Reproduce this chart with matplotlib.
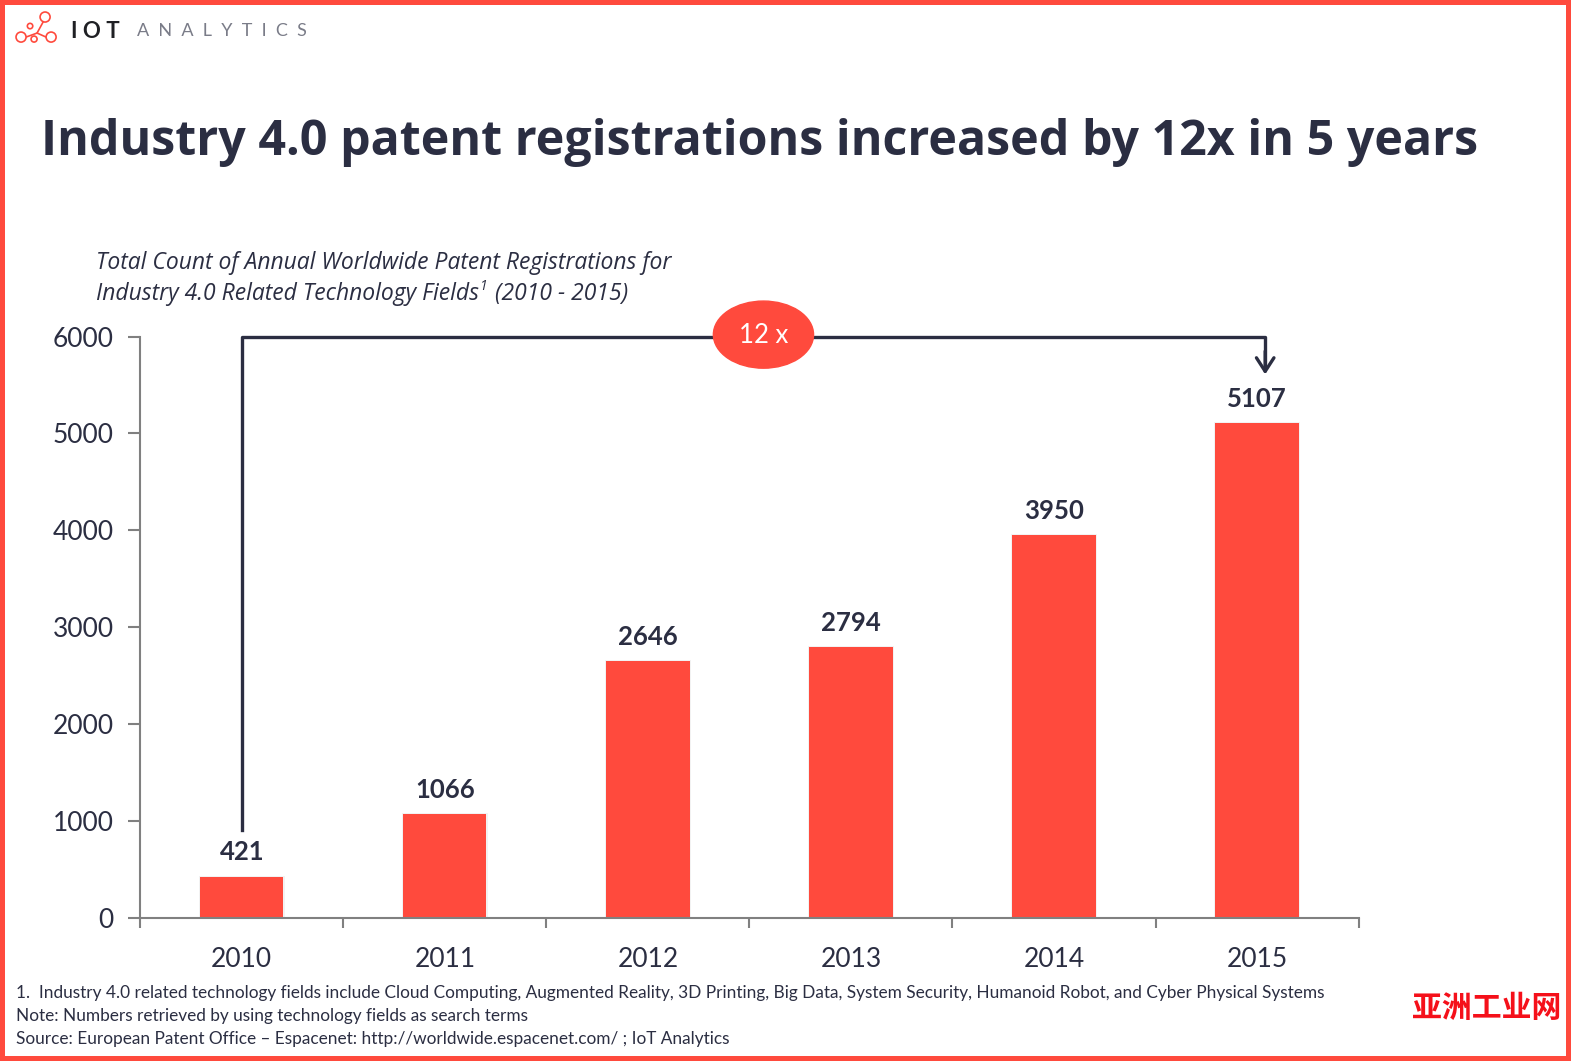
import matplotlib
matplotlib.use('Agg')
import matplotlib.pyplot as plt
from matplotlib.patches import Ellipse, Circle, Rectangle

years = ['2010', '2011', '2012', '2013', '2014', '2015']
patents = [421, 1066, 2646, 2794, 3950, 5107]
y_ticks = [0, 1000, 2000, 3000, 4000, 5000, 6000]
footnotes = [
    '1.  Industry 4.0 related technology fields include Cloud Computing, Augmented Reality, 3D Printing, Big Data, System Security, Humanoid Robot, and Cyber Physical Systems',
    'Note: Numbers retrieved by using technology fields as search terms',
    'Source: European Patent Office \u2013 Espacenet: http://worldwide.espacenet.com/ ; IoT Analytics',
]

W, H = 1568, 1059  # layout units, the saved file is 1571x1061
RED = '#ff4a3d'
DARK = '#2b2e42'
GREY = '#808080'

fig = plt.figure(figsize=(15.71, 10.61), dpi=100, facecolor='white')

# overlay in layout units for the frame, logo and texts
bg = fig.add_axes([0, 0, 1, 1], zorder=3)
bg.set_xlim(0, W)
bg.set_ylim(H, 0)
bg.axis('off')
bg.patch.set_alpha(0)

# chart axes
ax = fig.add_axes([140 / W, 1 - 916 / H, (1356 - 140) / W, (916 - 336) / H], zorder=2)
ax.patch.set_alpha(0)
x = list(range(len(years)))

# soft shadow then the bars
ax.bar(x, [v + 12 for v in patents], width=0.425, color='#000000', alpha=0.05)
ax.bar(x, patents, width=0.41, color=RED)

for i, v in zip(x, patents):
    ax.text(i, v + 130, str(v), ha='center', va='bottom', fontsize=18.5,
            fontweight='bold', family='Lato', color=DARK)

ax.set_xlim(-0.5, 5.5)
ax.set_ylim(0, 6000)
ax.set_yticks(y_ticks)
ax.set_xticks(x)
ax.set_xticklabels(years)
ax.set_xticks([i - 0.5 for i in range(len(years) + 1)], minor=True)
ax.tick_params(axis='x', which='major', length=0, pad=21, labelsize=19, labelcolor=DARK)
ax.tick_params(axis='x', which='minor', length=7, width=1.5, color=GREY)
ax.tick_params(axis='y', length=9, width=1.5, color=GREY, pad=10, labelsize=19, labelcolor=DARK)
for lab in ax.get_xticklabels() + ax.get_yticklabels():
    lab.set_family('Lato')
for s in ['top', 'right']:
    ax.spines[s].set_visible(False)
for s in ['left', 'bottom']:
    ax.spines[s].set_color(GREY)
    ax.spines[s].set_linewidth(1.5)

# 12x bracket from first to last bar, the drop sits a little right of the bar centre
drop_x = x[-1] + 0.04
ax.plot([x[0], x[0], drop_x, drop_x], [910, y_ticks[-1], y_ticks[-1], 5700],
        color=DARK, lw=2.4, clip_on=False, solid_joinstyle='round', zorder=5)
ax.annotate('', xy=(drop_x, 5610), xytext=(drop_x, 5850), annotation_clip=False, zorder=5,
            arrowprops=dict(arrowstyle='->,head_length=0.65,head_width=0.42', color=DARK, lw=2.4,
                            shrinkA=0, shrinkB=0, mutation_scale=15))

bg.add_patch(Ellipse((762, 334), 100, 67, color=RED, zorder=6))
bg.text(762, 335, '12 x', color='white', fontsize=18.5, family='Lato', ha='center', va='center', zorder=7)

# frame
bg.add_patch(Rectangle((2.4, 2.4), W - 5, H - 5, fill=False, ec=RED, lw=3.6))

# logo
LOGO_LW = 1.2
for cx, cy, r in [(45, 17, 5), (30, 26, 2.7), (21, 37, 5), (34, 39, 3), (51, 37, 5)]:
    bg.add_patch(Circle((cx, cy), r, fc='white', ec=RED, lw=LOGO_LW, zorder=3))
bg.plot([26, 37, 46], [37, 33, 37], color=RED, lw=LOGO_LW, zorder=2)
bg.plot([37, 43], [33, 22], color=RED, lw=LOGO_LW, zorder=2)
bg.text(71, 31, 'I O T', fontsize=16, fontweight='bold', family='Lato', color='#1f2024', va='center')
bg.text(137, 31, 'A  N  A  L  Y  T  I  C  S', fontsize=13, family='Lato',
        color='#7a7c88', va='center')

# title
bg.text(41, 155, 'Industry 4.0 patent registrations increased by 12x in 5 years',
        fontsize=34.8, fontweight='bold', family='Open Sans', color=DARK, va='baseline')

# subtitle
SUB = dict(fontsize=16.5, style='italic', family='Open Sans', color=DARK, va='center')
bg.text(96, 263, 'Total Count of Annual Worldwide Patent Registrations for', **SUB)
bg.text(96, 293, 'Industry 4.0 Related Technology Fields', **SUB)
bg.text(479, 286, '1', fontsize=10, style='italic', family='Open Sans', color=DARK, va='center')
bg.text(494, 293, '(2010 - 2015)', **SUB)

# footnotes
for y_px, line in zip([991.5, 1014.5, 1037.5], footnotes):
    bg.text(16, y_px, line, fontsize=12.4, family='Lato', color=DARK, va='center')

# watermark
bg.text(1484, 1006, '\u4e9a\u6d32\u5de5\u4e1a\u7f51', fontsize=21.5, fontweight='bold',
        family='Noto Sans CJK SC', color='#f5101a', ha='center', va='center')

fig.savefig('out.png', dpi=100)
